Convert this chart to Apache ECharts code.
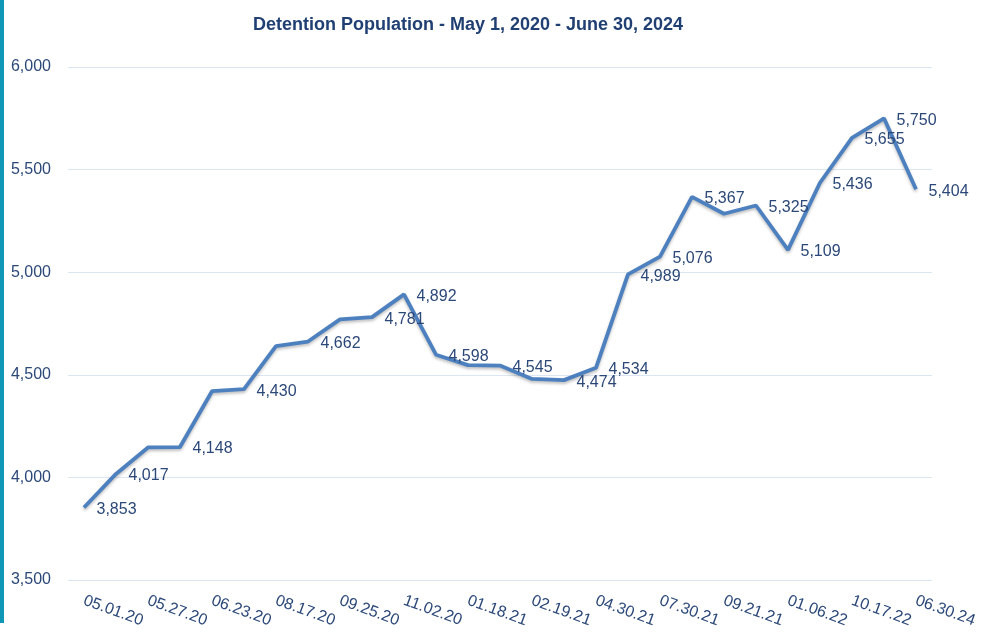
<!DOCTYPE html>
<html>
<head>
<meta charset="utf-8">
<script src="https://cdn.jsdelivr.net/npm/echarts@6/dist/echarts.min.js"></script>
<style>
html,body{margin:0;padding:0;background:#fff;}
#c{width:982px;height:633px;}
</style>
</head>
<body>
<div id="c"></div>
<script>
// Category labels (x axis shows every other date)
const categories = ['05.01.20','', '05.27.20','', '06.23.20','', '08.17.20','', '09.25.20','', '11.02.20','', '01.18.21','', '02.19.21','', '04.30.21','', '07.30.21','', '09.21.21','', '01.06.22','', '10.17.22','', '06.30.24'];
// Detention population values
const population = [3853, 4017, 4146, 4148, 4420, 4430, 4640, 4662, 4770, 4781, 4892, 4598, 4547, 4545, 4480, 4474, 4534, 4989, 5076, 5367, 5285, 5325, 5109, 5436, 5655, 5750, 5404];
// Points whose value label is displayed in the original
const labeledPoints = [0, 1, 3, 5, 7, 9, 10, 11, 13, 15, 16, 17, 18, 19, 21, 22, 23, 24, 25, 26];
const yTicks = [3500, 4000, 4500, 5000, 5500, 6000];

const textColor = '#2B4878';
const font = 'Liberation Sans';

const chart = echarts.init(document.getElementById('c'), null, {renderer: 'canvas'});
chart.setOption({
  animation: false,
  backgroundColor: '#ffffff',
  title: {
    text: 'Detention Population - May 1, 2020 - June 30, 2024',
    left: 463,
    textAlign: 'center',
    top: 11,
    textStyle: {fontFamily: font, fontSize: 18, fontWeight: 'bold', color: '#203F72'}
  },
  graphic: [{
    type: 'rect', left: 0, top: 0, shape: {width: 4, height: 623},
    style: {fill: '#0E97B6'}, silent: true
  }],
  grid: {left: 68, right: 50, top: 67, bottom: 53, containLabel: false},
  xAxis: {
    type: 'category',
    data: categories,
    boundaryGap: true,
    axisLine: {show: false},
    axisTick: {show: false},
    axisLabel: {
      interval: 0, rotate: -20, margin: 20,
      fontFamily: font, fontSize: 16, color: textColor
    }
  },
  yAxis: {
    type: 'value',
    min: yTicks[0], max: yTicks[yTicks.length - 1], interval: 500,
    axisLine: {show: false},
    axisTick: {show: false},
    splitLine: {lineStyle: {color: '#DCE6F2', width: 1}},
    axisLabel: {
      margin: 17, fontFamily: font, fontSize: 16, color: textColor,
      formatter: v => v.toLocaleString('en-US')
    }
  },
  series: [{
    type: 'line',
    data: population.map((v, i) => ({
      value: v,
      label: {show: labeledPoints.includes(i)}
    })),
    symbol: 'circle',
    symbolSize: 1,
    showSymbol: true,
    itemStyle: {color: 'rgba(0,0,0,0)'},
    lineStyle: {
      color: '#4D80BF', width: 3.8,
      shadowColor: 'rgba(0,0,0,0.25)', shadowBlur: 3, shadowOffsetY: 2
    },
    label: {
      position: 'right', distance: 12, offset: [0, 2],
      fontFamily: font, fontSize: 16, color: textColor,
      formatter: p => p.value.toLocaleString('en-US')
    }
  }]
});
</script>
</body>
</html>
